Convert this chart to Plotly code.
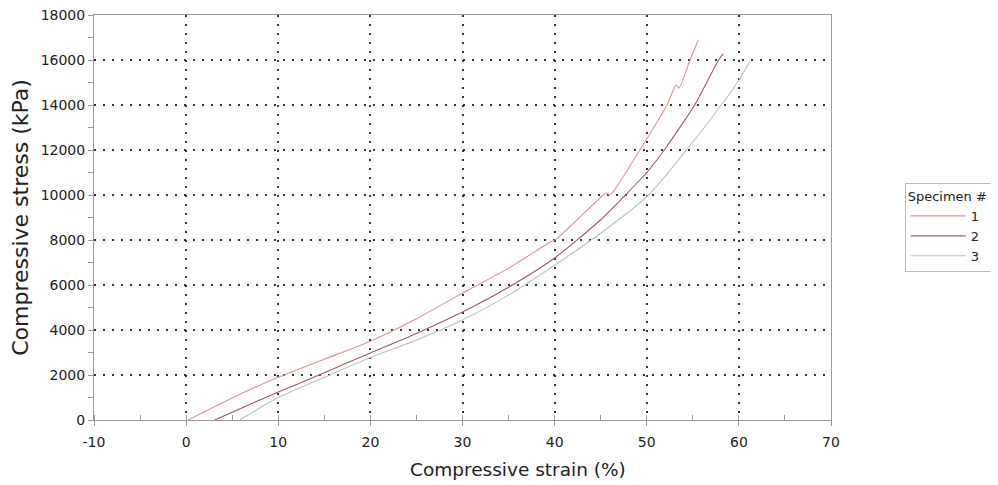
import plotly.graph_objects as go

# Specimen 1
s1_strain = [0.2, 5, 10, 15, 20, 25, 30, 35, 39.5, 40.2, 45, 45.6, 46, 50, 52.2, 53.2, 53.5, 54.7, 55.6]
s1_stress = [0, 980, 1900, 2700, 3500, 4500, 5640, 6750, 7900, 8050, 9900, 10100, 10000, 12500, 14000, 14900, 14750, 16000, 16900]
# Specimen 2
s2_strain = [3.1, 5, 10, 15, 20, 25, 30, 35, 40, 45, 50, 51.9, 55.2, 57.8, 58.3]
s2_stress = [0, 350, 1240, 2100, 2980, 3850, 4800, 5900, 7200, 8900, 11000, 12000, 14000, 16000, 16270]
# Specimen 3
s3_strain = [5.8, 10, 15, 20, 25, 30, 35, 40, 45, 50.2, 54.3, 58.1, 60, 61.2]
s3_stress = [0, 1000, 1900, 2780, 3550, 4440, 5550, 6880, 8300, 10000, 12000, 14000, 15100, 15950]

names = ["1", "2", "3"]
colors = ["#e0928a", "#a05a60", "#b8c4c0"]

x_ticks = [-10, 0, 10, 20, 30, 40, 50, 60, 70]
y_ticks = [0, 2000, 4000, 6000, 8000, 10000, 12000, 14000, 16000, 18000]

fig = go.Figure()
for xs, ys, n, c in zip([s1_strain, s2_strain, s3_strain], [s1_stress, s2_stress, s3_stress], names, colors):
    fig.add_trace(go.Scatter(x=xs, y=ys, mode="lines", name=n,
                             line=dict(color=c, width=1.1, shape="spline", smoothing=0.6)))

axis_common = dict(
    showline=True, linecolor="#9a9a9a", linewidth=1, mirror=True,
    showgrid=True, gridcolor="#333333", griddash="2px,7px", gridwidth=1.5,
    ticks="outside", ticklen=5, tickcolor="#9a9a9a",
    tickfont=dict(family="DejaVu Sans", size=14, color="#222222"),
    zeroline=False, automargin=False, ticklabeloverflow="allow",
)

fig.update_xaxes(range=[-10, 70], tickvals=x_ticks, ticktext=[str(v) for v in x_ticks],
                 minor=dict(dtick=5, ticks="inside", ticklen=5, tickcolor="#9a9a9a", showgrid=False),
                 ticklabelstandoff=4,
                 **axis_common)
fig.update_yaxes(range=[0, 18000], tickvals=y_ticks, ticktext=[str(v) for v in y_ticks],
                 minor=dict(dtick=1000, ticks="outside", ticklen=5, tickcolor="#9a9a9a", showgrid=False),
                 title=dict(text="Compressive stress (kPa)", font=dict(family="DejaVu Sans", size=22, color="#222222"), standoff=6),
                 **axis_common)

fig.add_annotation(text="Compressive strain (%)", xref="paper", yref="paper", x=0.575, y=-0.123,
                   xanchor="center", yanchor="middle", showarrow=False,
                   font=dict(family="DejaVu Sans", size=18.5, color="#222222"))

fig.update_layout(
    width=998, height=485,
    margin=dict(l=86, r=175, t=7, b=73),
    paper_bgcolor="white", plot_bgcolor="white",
    font=dict(family="DejaVu Sans", color="#222222"),
    legend=dict(
        title=dict(text="Specimen #", font=dict(size=13)),
        x=1.1, y=0.585, xanchor="left", yanchor="top",
        bordercolor="#bbbbbb", borderwidth=1,
        font=dict(size=13), tracegroupgap=0, itemwidth=55,
    ),
)

fig.write_html("out.html")
